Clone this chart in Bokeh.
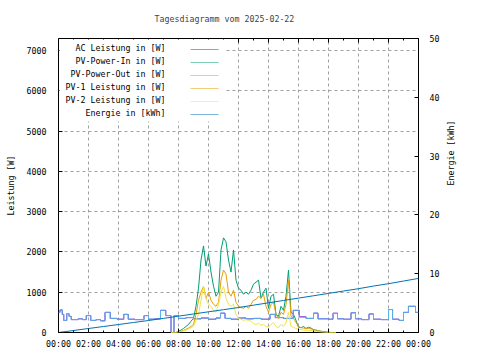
import numpy as np
from bokeh.plotting import figure
from bokeh.models import (Range1d, LinearAxis, FixedTicker, BoxAnnotation, Label,
                          PolyAnnotation, CustomJSTickFormatter)
from bokeh.embed import file_html
from bokeh.resources import INLINE

FONT = "DejaVu Sans Mono"
FS = "8.3px"

title_text = "Tagesdiagramm vom 2025-02-22"
y_label = "Leistung [W]"
y2_label = "Energie [kWh]"
series_names = ["AC Leistung in [W]", "PV-Power-In in [W]", "PV-Power-Out in [W]",
                "PV-1 Leistung in [W]", "PV-2 Leistung in [W]", "Energie in [kWh]"]
series_colors = ["#9400d3", "#009e73", "#56b4e9", "#e69f00", "#f0e442", "#0072b2"]

x_tick_hours = [0, 2, 4, 6, 8, 10, 12, 14, 16, 18, 20, 22, 24]
x_tick_labels = ["00:00", "02:00", "04:00", "06:00", "08:00", "10:00", "12:00",
                 "14:00", "16:00", "18:00", "20:00", "22:00", "00:00"]
x_minor_hours = [1, 3, 5, 7, 9, 11, 13, 15, 17, 19, 21, 23]
y_ticks = [0, 1000, 2000, 3000, 4000, 5000, 6000, 7000]
y2_ticks = [0, 10, 20, 30, 40, 50]

# PV-Power-Out (step data, hour of change -> W)
out_t = [0.0, 0.1, 0.25, 0.35, 0.55, 0.7, 0.85, 1.3, 1.6, 1.85,
         2.15, 2.5, 2.8, 3.1, 3.45, 3.9, 4.35, 4.65, 5.1, 5.7,
         6.0, 6.4, 6.8, 7.15, 7.5, 7.7, 8.0, 8.5, 9.0, 9.5,
         10.0, 10.5, 10.8, 11.1, 11.5, 12.0, 12.5, 13.0, 13.5, 14.1,
         14.45, 15.0, 15.65, 16.05, 16.5, 17.0, 17.3, 18.0, 18.3, 18.6,
         19.0, 19.5, 19.8, 20.2, 20.7, 21.0, 21.5, 22.0, 22.27, 22.7,
         23.0, 23.33, 23.8, 24.0]
out_w = [500, 560, 450, 300, 470, 400, 320, 340, 320, 420,
         300, 320, 290, 500, 350, 330, 450, 330, 320, 420,
         330, 340, 550, 420, 0, 420, 350, 370, 340, 360,
         330, 360, 480, 350, 330, 360, 340, 350, 330, 450,
         370, 350, 550, 380, 350, 480, 340, 330, 470, 340,
         330, 490, 340, 320, 460, 330, 320, 570, 330, 300,
         500, 650, 500, 500]
# AC Leistung (almost identical to PV-Power-Out)
ac_w = [500, 560, 450, 300, 470, 400, 320, 340, 320, 420,
        300, 320, 290, 500, 350, 330, 450, 330, 320, 420,
        330, 340, 550, 420, 0, 420, 350, 370, 340, 360,
        330, 360, 480, 350, 330, 360, 340, 350, 330, 450,
        370, 350, 550, 390, 350, 480, 340, 330, 480, 340,
        330, 490, 340, 320, 460, 330, 320, 570, 330, 300,
        500, 650, 500, 500]

# daytime PV series, every 10 minutes from 07:30 to 18:30
day_t = np.linspace(7.5, 18.5, 67)
pv_in = [0, 0, 0, 30, 60, 100, 150, 200, 280, 350,
         650, 1100, 1800, 2150, 1650, 1950, 1500, 1150, 900, 1000,
         2050, 2350, 2250, 1800, 1500, 2050, 1300, 1100, 1050, 950,
         1000, 950, 1050, 1200, 1250, 1300, 850, 1000, 1100, 600,
         900, 950, 450, 400, 650, 550, 900, 1550, 500, 450,
         300, 130, 120, 150, 100, 130, 110, 70, 60, 40,
         30, 20, 10, 5, 0, 0, 0]
pv1 = [0, 0, 0, 15, 30, 50, 80, 110, 150, 200,
       450, 800, 1000, 1150, 850, 1000, 800, 700, 650, 750,
       1300, 1550, 1450, 1000, 900, 1050, 750, 650, 620, 600,
       650, 600, 700, 800, 820, 900, 850, 950, 650, 500,
       700, 750, 450, 350, 500, 450, 700, 1300, 400, 350,
       250, 150, 120, 110, 100, 100, 90, 70, 60, 40,
       30, 20, 15, 10, 0, 0, 0]
pv2 = [0, 0, 0, 10, 20, 40, 60, 90, 120, 150,
       300, 450, 800, 1150, 850, 700, 650, 550, 500, 700,
       1000, 1150, 850, 700, 650, 700, 450, 350, 330, 300,
       320, 300, 280, 220, 200, 230, 180, 200, 150, 130,
       200, 250, 150, 120, 200, 150, 250, 500, 150, 130,
       100, 80, 70, 60, 60, 50, 50, 40, 30, 20,
       10, 0, 0, 0, 0, 0, 0]

energy_t = list(range(25))
energy_kwh = [0, 0.34, 0.68, 1.02, 1.36, 1.7, 2.04, 2.4, 2.78, 3.15,
              3.52, 3.88, 4.25, 4.65, 5.05, 5.45, 5.85, 6.25, 6.65, 7.05,
              7.45, 7.9, 8.3, 8.75, 9.2]

p = figure(width=480, height=360, output_backend="svg", toolbar_location=None,
           x_range=Range1d(0, 24), y_range=Range1d(0, 7300),
           min_border_left=58, min_border_right=62, min_border_top=38, min_border_bottom=28)
p.background_fill_color = "white"
p.border_fill_color = "white"
p.outline_line_color = "black"
p.outline_line_width = 1

p.title.text = title_text
p.title.align = "left"
p.title.offset = 96
p.title.text_font = FONT
p.title.text_font_size = FS
p.title.text_font_style = "normal"
p.title.vertical_align = "top"
p.title.standoff = 26


def style_axis(ax, standoff, label_standoff=8):
    ax.axis_line_color = None
    ax.major_tick_in = 4
    ax.major_tick_out = 0
    ax.minor_tick_in = 2
    ax.minor_tick_out = 0
    ax.major_tick_line_color = "black"
    ax.minor_tick_line_color = "black"
    ax.major_label_text_font = FONT
    ax.major_label_text_font_size = FS
    ax.major_label_text_color = "black"
    ax.major_label_standoff = standoff
    ax.axis_label_text_font = FONT
    ax.axis_label_text_font_size = FS
    ax.axis_label_text_font_style = "normal"
    ax.axis_label_text_color = "black"
    ax.axis_label_standoff = label_standoff


xax = p.xaxis[0]
xax.ticker = FixedTicker(ticks=x_tick_hours, minor_ticks=x_minor_hours)
xax.major_label_overrides = {h: lab for h, lab in zip(x_tick_hours, x_tick_labels)}
style_axis(xax, 6)

yax = p.yaxis[0]
yax.ticker = FixedTicker(ticks=y_ticks)
yax.axis_label = y_label
style_axis(yax, 12, 8)

# mirrored ticks on the top border (no labels)
top_ax = LinearAxis(ticker=FixedTicker(ticks=x_tick_hours, minor_ticks=x_minor_hours),
                    formatter=CustomJSTickFormatter(code="return ''"))
style_axis(top_ax, 0)
p.add_layout(top_ax, "above")

p.extra_y_ranges = {"energy": Range1d(0, 50)}
right_ax = LinearAxis(y_range_name="energy", ticker=FixedTicker(ticks=y2_ticks), axis_label=y2_label)
style_axis(right_ax, 11, 9)
right_ax.axis_label_orientation = np.pi / 2
p.add_layout(right_ax, "right")

p.grid.grid_line_color = "#a0a0a0"
p.grid.grid_line_dash = "3 3"
p.grid.grid_line_width = 1
p.xgrid.ticker = FixedTicker(ticks=x_tick_hours)
p.ygrid.ticker = FixedTicker(ticks=y_ticks)

# data (gnuplot order)
p.step(out_t, ac_w, mode="after", color=series_colors[0], line_width=1)
p.line(day_t, pv_in, color=series_colors[1], line_width=1)
p.step(out_t, out_w, mode="after", color=series_colors[2], line_width=1)
p.line(day_t, pv1, color=series_colors[3], line_width=1)
p.line(day_t, pv2, color=series_colors[4], line_width=1)
p.line(energy_t, energy_kwh, color=series_colors[5], line_width=1, y_range_name="energy")

# gnuplot-style key: white box, right-aligned text, sample line to the right
p.add_layout(BoxAnnotation(left=1, right=167, top=293, bottom=211,
                           left_units="screen", right_units="screen",
                           top_units="screen", bottom_units="screen",
                           fill_color="white", fill_alpha=1, line_color=None))
row_y0 = 283
row_dy = 13
for i, (name, col) in enumerate(zip(series_names, series_colors)):
    y = row_y0 - i * row_dy
    p.add_layout(Label(x=107, y=y + 1.5, x_units="screen", y_units="screen", text=name,
                       text_align="right", text_baseline="middle",
                       text_font=FONT, text_font_size=FS, text_color="black"))
    p.add_layout(PolyAnnotation(xs=[132, 160, 160, 132], ys=[y, y, y, y],
                                xs_units="screen", ys_units="screen",
                                fill_alpha=0, line_color=col, line_width=1))

open("out.html", "w").write(file_html(p, INLINE))
